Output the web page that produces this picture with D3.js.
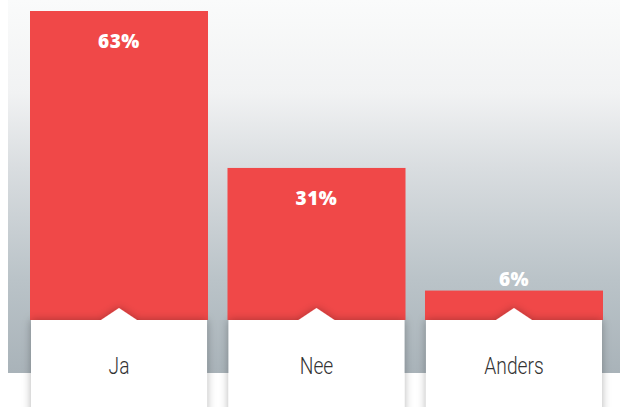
<!DOCTYPE html>
<html lang="nl">
    <head>
        <meta charset="utf-8"/>
        <script src="https://d3js.org/d3.v7.min.js"></script>
        <style>
            body { margin: 0; background: #fff; }
        </style>
    </head>
    <body>
        <div id="chart"></div>
    </body>
    <script>
        var categories = ["Ja", "Nee", "Anders"];
        var values = [63, 31, 6];
        var valueLabels = ["63%", "31%", "6%"];

        var width = 620, height = 407;
        var panelLeft = 8, panelBottom = 373;
        var baseY = 320;

        var svg = d3.select("#chart")
            .append("svg")
                .attr("width", width)
                .attr("height", height)

        var defs = svg.append("defs")
        var grad = defs.append("linearGradient")
            .attr("id", "bg")
            .attr("x1", 0).attr("y1", 0).attr("x2", 0).attr("y2", 1)
        grad.append("stop").attr("offset", "0%").attr("stop-color", "#fafbfb")
        grad.append("stop").attr("offset", "25%").attr("stop-color", "#f1f2f3")
        grad.append("stop").attr("offset", "45%").attr("stop-color", "#d9dde0")
        grad.append("stop").attr("offset", "75%").attr("stop-color", "#bac3c8")
        grad.append("stop").attr("offset", "100%").attr("stop-color", "#a9b3b9")

        var shadow = defs.append("filter")
            .attr("id", "shadow")
            .attr("x", "-20%").attr("y", "-20%")
            .attr("width", "140%").attr("height", "140%")
        shadow.append("feDropShadow")
            .attr("dx", 0).attr("dy", 0)
            .attr("stdDeviation", 4)
            .attr("flood-color", "#000")
            .attr("flood-opacity", 0.3)

        svg.append("rect")
            .attr("x", panelLeft)
            .attr("y", 0)
            .attr("width", width - panelLeft)
            .attr("height", panelBottom)
            .attr("fill", "url(#bg)")

        var x = d3.scaleBand()
            .domain(categories)
            .range([30, 603])
            .paddingInner(0.0987)

        var y = d3.scaleLinear()
            .domain([0, 63])
            .range([baseY, 11])

        var data = categories.map(function (c, i) {
            return { cat: c, value: values[i], label: valueLabels[i] };
        })

        // red bars
        svg.selectAll("rect.bar")
            .data(data)
            .enter()
            .append("rect")
                .attr("class", "bar")
                .attr("x", function (d) { return x(d.cat); })
                .attr("y", function (d) { return y(d.value); })
                .attr("width", x.bandwidth())
                .attr("height", function (d) { return baseY - y(d.value); })
                .attr("fill", "#f04848")

        // white label boxes with a notch pointing up
        var notchW = 18, notchH = 12;
        svg.selectAll("path.box")
            .data(data)
            .enter()
            .append("path")
                .attr("class", "box")
                .attr("filter", "url(#shadow)")
                .attr("fill", "#fff")
                .attr("d", function (d) {
                    var x0 = x(d.cat) + 1, x1 = x(d.cat) + x.bandwidth() - 1;
                    var cx = x(d.cat) + x.bandwidth() / 2;
                    return "M" + x0 + "," + baseY +
                        "L" + (cx - notchW) + "," + baseY +
                        "L" + cx + "," + (baseY - notchH) +
                        "L" + (cx + notchW) + "," + baseY +
                        "L" + x1 + "," + baseY +
                        "L" + x1 + "," + (height + 10) +
                        "L" + x0 + "," + (height + 10) + "Z";
                })

        // percentages
        svg.selectAll("text.value")
            .data(data)
            .enter()
            .append("text")
                .attr("class", "value")
                .attr("x", function (d) { return x(d.cat) + x.bandwidth() / 2; })
                .attr("y", function (d) {
                    return d.value > 10 ? y(d.value) + 37 : y(d.value) - 5;
                })
                .attr("text-anchor", "middle")
                .attr("fill", "#fff")
                .style("font-family", "'Open Sans', sans-serif")
                .style("font-weight", 800)
                .style("font-size", "19px")
                .style("letter-spacing", "0.5px")
                .text(function (d) { return d.label; })

        // categories (condensed light look)
        svg.selectAll("text.cat")
            .data(data)
            .enter()
            .append("text")
                .attr("class", "cat")
                .attr("transform", function (d) {
                    return "translate(" + (x(d.cat) + x.bandwidth() / 2) + ",374) scale(0.8,1)";
                })
                .attr("text-anchor", "middle")
                .attr("fill", "#333")
                .style("font-family", "Roboto, sans-serif")
                .style("font-weight", 300)
                .style("font-size", "24px")
                .text(function (d) { return d.cat; })
    </script>
</html>
